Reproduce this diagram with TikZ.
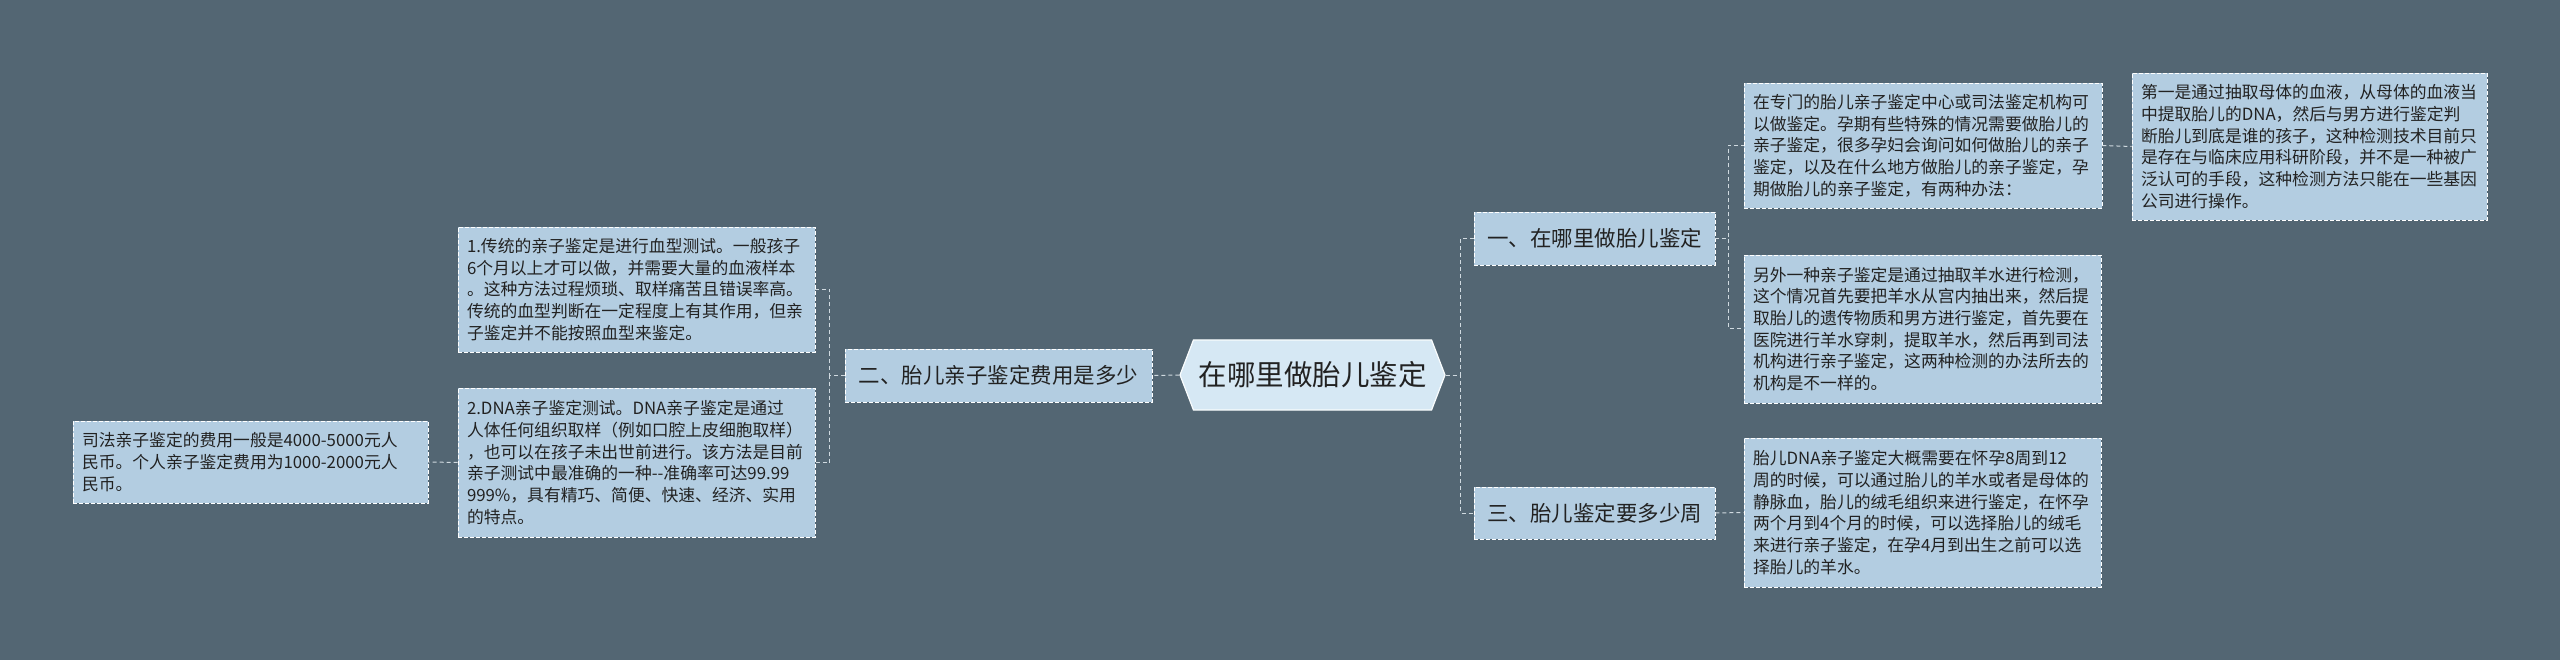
\documentclass[tikz,border=0pt]{standalone}
\usepackage{fontspec}
\newfontfamily\cjk{Noto Sans CJK SC}
\usetikzlibrary{shapes.symbols}
\definecolor{bgc}{HTML}{536673}
\definecolor{boxc}{HTML}{B3CDE1}
\definecolor{rootc}{HTML}{D6E8F4}
\definecolor{txtc}{HTML}{222222}
\definecolor{linec}{HTML}{D0DAE0}
\tikzset{
  leafbox/.style={draw=white, dash pattern=on 4pt off 2pt, line width=0.8pt, fill=boxc,
    inner xsep=9pt, inner ysep=0pt, align=left, text=txtc,
    font=\cjk\fontsize{16.8}{21.7}\selectfont},
  midbox/.style={draw=white, dash pattern=on 4pt off 2pt, line width=0.8pt, fill=boxc,
    inner sep=0pt, text=txtc, font=\cjk\fontsize{21.5}{26}\selectfont},
  rootbox/.style={shape=signal, signal to=west and east, signal pointer angle=138,
    draw=white!85!rootc, line width=1.2pt, fill=rootc, inner sep=0pt, text=txtc,
    font=\cjk\fontsize{28.5}{34}\selectfont},
  conn/.style={draw=linec, line width=1pt, dash pattern=on 4pt off 3pt}
}
\begin{document}
\begin{tikzpicture}[x=1pt,y=-1pt]
\fill[bgc] (0,0) rectangle (2560,660);
\useasboundingbox (0,0) rectangle (2560,660);

\node[rootbox, minimum width=265pt, minimum height=70pt] (root) at (1312.5,375) {在哪里做胎儿鉴定};

\node[midbox, minimum width=307pt, minimum height=53pt] (m2) at (998.5,375.5) {二、胎儿亲子鉴定费用是多少};
\node[midbox, minimum width=241pt, minimum height=53pt] (m1) at (1594.5,238.5) {一、在哪里做胎儿鉴定};
\node[midbox, minimum width=241pt, minimum height=52pt] (m3) at (1594.5,513) {三、胎儿鉴定要多少周};

\node[leafbox, text width=339pt, minimum height=125pt] (l1) at (636.5,289.5) {1.传统的亲子鉴定是进行血型测试。一般孩子\\6个月以上才可以做，并需要大量的血液样本\\。这种方法过程烦琐、取样痛苦且错误率高。\\传统的血型判断在一定程度上有其作用，但亲\\子鉴定并不能按照血型来鉴定。};
\node[leafbox, text width=339pt, minimum height=149pt] (l2) at (636.5,462.5) {2.DNA亲子鉴定测试。DNA亲子鉴定是通过\\人体任何组织取样（例如口腔上皮细胞取样）\\，也可以在孩子未出世前进行。该方法是目前\\亲子测试中最准确的一种--准确率可达99.99\\999\%，具有精巧、简便、快速、经济、实用\\的特点。};
\node[leafbox, text width=337pt, minimum height=82pt] (fl) at (250.5,462) {司法亲子鉴定的费用一般是4000-5000元人\\民币。个人亲子鉴定费用为1000-2000元人\\民币。};

\node[leafbox, text width=340pt, minimum height=125pt] (ra) at (1923,145.5) {在专门的胎儿亲子鉴定中心或司法鉴定机构可\\以做鉴定。孕期有些特殊的情况需要做胎儿的\\亲子鉴定，很多孕妇会询问如何做胎儿的亲子\\鉴定，以及在什么地方做胎儿的亲子鉴定，孕\\期做胎儿的亲子鉴定，有两种办法：};
\node[leafbox, text width=339pt, minimum height=148pt] (rb) at (1922.5,329) {另外一种亲子鉴定是通过抽取羊水进行检测，\\这个情况首先要把羊水从宫内抽出来，然后提\\取胎儿的遗传物质和男方进行鉴定，首先要在\\医院进行羊水穿刺，提取羊水，然后再到司法\\机构进行亲子鉴定，这两种检测的办法所去的\\机构是不一样的。};
\node[leafbox, text width=339pt, minimum height=149pt] (rc) at (1922.5,512.5) {胎儿DNA亲子鉴定大概需要在怀孕8周到12\\周的时候，可以通过胎儿的羊水或者是母体的\\静脉血，胎儿的绒毛组织来进行鉴定，在怀孕\\两个月到4个月的时候，可以选择胎儿的绒毛\\来进行亲子鉴定，在孕4月到出生之前可以选\\择胎儿的羊水。};
\node[leafbox, text width=337pt, minimum height=147pt] (fr) at (2309.5,146.5) {第一是通过抽取母体的血液，从母体的血液当\\中提取胎儿的DNA，然后与男方进行鉴定判\\断胎儿到底是谁的孩子，这种检测技术目前只\\是存在与临床应用科研阶段，并不是一种被广\\泛认可的手段，这种检测方法只能在一些基因\\公司进行操作。};

% connectors
\draw[conn] (root.west) -- (m2.east);
\draw[conn] (m2.west) -- ++(-15,0) |- (l1.east);
\draw[conn] (m2.west) -- ++(-15,0) |- (l2.east);
\draw[conn] (l2.west) -- (fl.east);
\draw[conn] (root.east) -- ++(15,0) |- (m1.west);
\draw[conn] (root.east) -- ++(15,0) |- (m3.west);
\draw[conn] (m1.east) -- ++(13,0) |- (ra.west);
\draw[conn] (m1.east) -- ++(13,0) |- (rb.west);
\draw[conn] (ra.east) -- (fr.west);
\draw[conn] (m3.east) -- (rc.west);
\end{tikzpicture}
\end{document}
